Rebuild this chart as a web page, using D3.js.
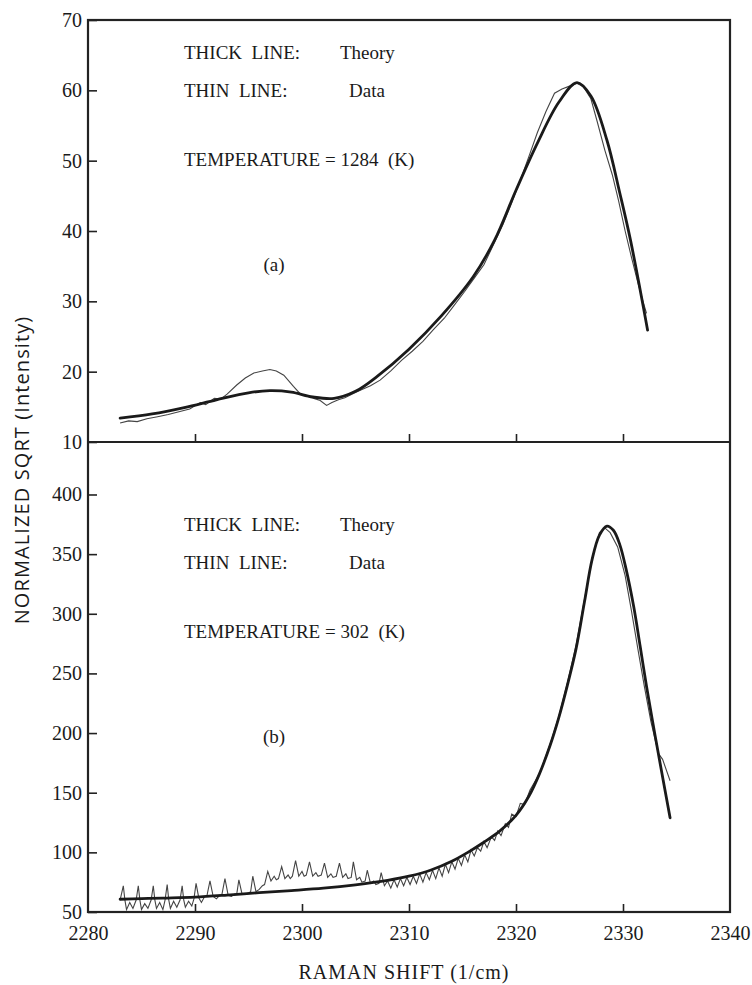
<!DOCTYPE html>
<html>
<head>
<meta charset="utf-8">
<script src="https://cdn.jsdelivr.net/npm/d3@7"></script>
<style>
  body { margin: 0; background: #fff; }
  text { fill: #1a1a1a; }
  .serif text, text.serif { font-family: 'Liberation Serif', 'Times New Roman', serif; }
</style>
</head>
<body>
<script>
// Raman spectra, two stacked panels: (a) 1284 K and (b) 302 K
// each panel: thick line = theory, thin line = measured data

let width = 752
let height = 985

let xTicks = [2280, 2290, 2300, 2310, 2320, 2330, 2340]
let yTicksA = [10, 20, 30, 40, 50, 60, 70]
let yTicksB = [50, 100, 150, 200, 250, 300, 350, 400]

// panel (a), T = 1284 K  [raman shift, sqrt intensity]
let theoryA = [
  [2283.0, 13.4], [2286.0, 14.0], [2289.0, 14.9], [2292.0, 16.0], [2295.0, 17.0],
  [2297.0, 17.3], [2299.0, 17.1], [2301.0, 16.4], [2303.0, 16.2], [2305.0, 17.2],
  [2307.0, 19.3], [2310.0, 23.2], [2313.0, 27.9], [2316.0, 33.5], [2318.0, 38.7],
  [2320.0, 45.8], [2322.0, 52.5], [2324.0, 58.3], [2325.7, 61.1], [2327.0, 59.2],
  [2328.5, 52.9], [2329.7, 45.4], [2330.7, 38.7], [2332.3, 25.9]
]
let dataA = [
  [2283.0, 12.7], [2283.8, 13.0], [2284.6, 12.9], [2285.5, 13.3], [2286.5, 13.6],
  [2287.5, 13.9], [2288.5, 14.3], [2289.5, 14.7], [2290.5, 15.6], [2291.0, 15.3],
  [2291.8, 16.2], [2292.4, 16.1], [2293.0, 16.8], [2293.9, 18.1], [2294.7, 19.1],
  [2295.5, 19.8], [2296.3, 20.1], [2297.0, 20.3], [2297.6, 20.1], [2298.3, 19.5],
  [2299.2, 17.9], [2299.8, 16.9], [2300.5, 16.5], [2301.1, 16.2], [2301.7, 15.9],
  [2302.3, 15.2], [2302.8, 15.6], [2303.4, 16.0], [2304.0, 16.3], [2304.8, 16.9],
  [2305.5, 17.4], [2306.4, 18.0], [2307.3, 18.8], [2308.3, 20.1], [2309.3, 21.6],
  [2310.3, 22.9], [2311.3, 24.3], [2312.3, 26.0], [2313.3, 27.6], [2314.2, 29.4],
  [2315.2, 31.4], [2316.1, 33.3], [2317.0, 35.2], [2318.0, 38.4], [2318.8, 41.0],
  [2319.6, 44.0], [2320.5, 47.6], [2321.3, 51.0], [2322.0, 54.0], [2322.8, 57.0],
  [2323.6, 59.6], [2324.3, 60.2], [2325.0, 60.6], [2325.7, 61.0], [2326.3, 60.5],
  [2327.0, 58.8], [2327.6, 55.5], [2328.3, 51.5], [2329.0, 48.0], [2329.6, 44.2],
  [2330.2, 40.0], [2330.8, 36.2], [2331.4, 32.6], [2331.9, 29.8], [2332.2, 28.3]
]

// panel (b), T = 302 K
let theoryB = [
  [2283.0, 60.7], [2285.0, 61.2], [2287.0, 61.7], [2290.0, 62.5], [2293.0, 64.2],
  [2296.0, 66.2], [2299.0, 68.0], [2302.0, 70.0], [2305.0, 72.8], [2308.0, 76.5],
  [2310.0, 80.0], [2312.0, 85.0], [2314.0, 92.5], [2315.5, 100], [2317.0, 108.5],
  [2318.5, 118], [2320.0, 131], [2321.2, 147], [2322.2, 166], [2323.2, 190],
  [2324.0, 213], [2324.8, 240], [2325.6, 270], [2326.4, 310], [2327.1, 345],
  [2327.8, 366], [2328.5, 373.5], [2329.1, 370], [2329.7, 358], [2330.3, 337],
  [2331.0, 306], [2331.6, 273], [2332.2, 239], [2332.8, 208], [2333.4, 178],
  [2334.4, 129]
]
let dataB = [
  [2283.0, 60], [2283.3, 72], [2283.45, 60], [2283.6, 52], [2283.9, 58], [2284.2, 53], [2284.5, 60],
  [2284.7, 72], [2284.85, 60], [2285.0, 52], [2285.3, 57], [2285.6, 53], [2285.9, 60],
  [2286.1, 72], [2286.25, 60], [2286.4, 53], [2286.7, 58], [2287.0, 52], [2287.2, 60],
  [2287.4, 73], [2287.55, 60], [2287.7, 53], [2288.0, 59], [2288.3, 54], [2288.6, 60],
  [2288.8, 72], [2288.95, 60], [2289.1, 54], [2289.4, 59], [2289.7, 55], [2289.9, 61],
  [2290.1, 74], [2290.35, 62], [2290.6, 58], [2290.9, 63], [2291.1, 63],
  [2291.4, 76], [2291.7, 63], [2292.0, 61], [2292.3, 64], [2292.5, 64],
  [2292.8, 78], [2293.1, 64], [2293.4, 63], [2293.7, 65], [2293.9, 65],
  [2294.1, 77], [2294.4, 65], [2294.7, 65], [2295.0, 66], [2295.2, 67],
  [2295.4, 80], [2295.7, 67], [2296.0, 69], [2296.3, 72], [2296.5, 73],
  [2296.8, 84], [2297.1, 76], [2297.4, 80], [2297.6, 77], [2297.8, 78],
  [2298.1, 88], [2298.4, 78], [2298.7, 81], [2298.9, 78], [2299.1, 80],
  [2299.4, 93], [2299.7, 80], [2300.0, 84], [2300.2, 80], [2300.4, 81],
  [2300.7, 92], [2301.0, 80], [2301.3, 83], [2301.5, 80], [2301.8, 81],
  [2302.1, 91], [2302.4, 79], [2302.7, 82], [2302.9, 79], [2303.2, 80],
  [2303.5, 91], [2303.8, 79], [2304.1, 82], [2304.3, 78], [2304.6, 79],
  [2304.8, 92], [2305.1, 77], [2305.4, 79], [2305.6, 75], [2305.9, 76],
  [2306.1, 85], [2306.4, 74], [2306.7, 76], [2306.9, 73], [2307.2, 74],
  [2307.4, 83], [2307.7, 72], [2308.0, 76], [2308.3, 70], [2308.6, 77],
  [2308.9, 71], [2309.2, 78], [2309.5, 72], [2309.8, 79], [2310.1, 73],
  [2310.4, 80], [2310.7, 74], [2311.0, 82], [2311.3, 75], [2311.6, 83],
  [2311.9, 77], [2312.2, 85], [2312.5, 78], [2312.8, 87], [2313.1, 80],
  [2313.4, 90], [2313.7, 83], [2314.0, 92], [2314.3, 86], [2314.6, 95],
  [2314.9, 89], [2315.2, 98], [2315.5, 92], [2315.8, 102], [2316.1, 97],
  [2316.4, 104], [2316.7, 101], [2317.0, 109], [2317.3, 104], [2317.7, 113],
  [2318.0, 110], [2318.3, 118], [2318.6, 114], [2319.0, 124], [2319.3, 121],
  [2319.6, 132], [2320.0, 130], [2320.4, 141], [2320.8, 140], [2321.3, 152],
  [2322.2, 166], [2323.2, 191], [2324.0, 214], [2324.8, 242], [2325.6, 273],
  [2326.4, 312], [2327.1, 346], [2327.8, 368], [2328.3, 372], [2328.8, 368],
  [2329.5, 356], [2330.2, 332], [2330.8, 302], [2331.4, 270], [2332.0, 239],
  [2332.6, 210], [2333.3, 183], [2333.7, 178], [2334.4, 160]
]

let labelsA = ["THICK  LINE:", "Theory", "THIN  LINE:", "Data", "TEMPERATURE = 1284  (K)", "(a)"]
let labelsB = ["THICK  LINE:", "Theory", "THIN  LINE:", "Data", "TEMPERATURE = 302  (K)", "(b)"]

let frame = {left: 88, right: 730, top: 20, mid: 442, bottom: 912}

let x = d3.scaleLinear().domain([2280, 2340]).range([frame.left, frame.right])
let yA = d3.scaleLinear().domain([10, 70]).range([frame.mid, frame.top])
let yB = d3.scaleLinear().domain([50, 444]).range([frame.bottom, frame.mid])

let svg = d3.select("body").append("svg")
  .attr("width", width)
  .attr("height", height)

// left axes, ticks pointing inwards
svg.append("g")
  .attr("transform", `translate(${frame.left},0)`)
  .call(d3.axisLeft(yA).tickValues(yTicksA).tickSize(-9).tickPadding(6))
  .call(g => g.select(".domain").remove())
svg.append("g")
  .attr("transform", `translate(${frame.left},0)`)
  .call(d3.axisLeft(yB).tickValues(yTicksB).tickSize(-9).tickPadding(6))
  .call(g => g.select(".domain").remove())

// x ticks on the divider line of panel (a), no labels
svg.append("g")
  .attr("transform", `translate(0,${frame.mid})`)
  .call(d3.axisBottom(x).tickValues(xTicks.slice(1, -1)).tickSize(-8).tickFormat(""))
  .call(g => g.select(".domain").remove())

svg.append("g")
  .attr("transform", `translate(0,${frame.bottom})`)
  .call(d3.axisBottom(x).tickValues(xTicks).tickSize(-8).tickPadding(14).tickFormat(d3.format("d")))
  .call(g => g.select(".domain").remove())
  .call(g => g.selectAll(".tick").filter(d => d == 2280 || d == 2340).select("line").remove())

svg.selectAll(".tick line").attr("stroke", "#222").attr("stroke-width", 1.6)
svg.selectAll(".tick text")
  .attr("class", "serif")
  .attr("font-family", null)
  .style("font-size", "20px")
  .attr("fill", "#1a1a1a")

// frame
svg.append("rect")
  .attr("x", frame.left).attr("y", frame.top)
  .attr("width", frame.right - frame.left).attr("height", frame.bottom - frame.top)
  .attr("fill", "none").attr("stroke", "#222").attr("stroke-width", 2.2)
svg.append("line")
  .attr("x1", frame.left).attr("x2", frame.right)
  .attr("y1", frame.mid).attr("y2", frame.mid)
  .attr("stroke", "#222").attr("stroke-width", 2.2)

function drawPanel(theory, data, y) {
  svg.append("path")
    .attr("d", d3.line().x(d => x(d[0])).y(d => y(d[1])).curve(d3.curveLinear)(data))
    .attr("fill", "none")
    .attr("stroke", "#444")
    .attr("stroke-width", 1.1)
  svg.append("path")
    .attr("d", d3.line().x(d => x(d[0])).y(d => y(d[1])).curve(d3.curveCatmullRom)(theory))
    .attr("fill", "none")
    .attr("stroke", "#1a1a1a")
    .attr("stroke-width", 2.8)
    .attr("stroke-linejoin", "round")
    .attr("stroke-linecap", "round")
}
drawPanel(theoryA, dataA, yA)
drawPanel(theoryB, dataB, yB)

function annotate(labels, top) {
  let g = svg.append("g")
    .attr("class", "serif")
    .style("font-size", "19px")
  let rows = [[184, top, 0], [340, top, 1], [184, top + 38, 2], [349, top + 38, 3], [184, top + 107, 4]]
  rows.forEach(r => {
    g.append("text").attr("x", r[0]).attr("y", r[1])
      .attr("xml:space", "preserve").style("white-space", "pre")
      .text(labels[r[2]])
  })
  g.append("text").attr("x", 274).attr("y", top + 212).attr("text-anchor", "middle").text(labels[5])
}
annotate(labelsA, 59)
annotate(labelsB, 531)

// axis titles
svg.append("text")
  .attr("transform", `translate(29,470) rotate(-90)`)
  .attr("text-anchor", "middle")
  .style("font-family", "'Open Sans', 'DejaVu Sans', sans-serif")
  .style("font-size", "20px")
  .style("letter-spacing", "1.1px")
  .text("NORMALIZED SQRT (Intensity)")

svg.append("text")
  .attr("class", "serif")
  .attr("x", 404).attr("y", 979)
  .attr("text-anchor", "middle")
  .style("font-size", "20px")
  .style("letter-spacing", "1px")
  .text("RAMAN SHIFT (1/cm)")
</script>
</body>
</html>
